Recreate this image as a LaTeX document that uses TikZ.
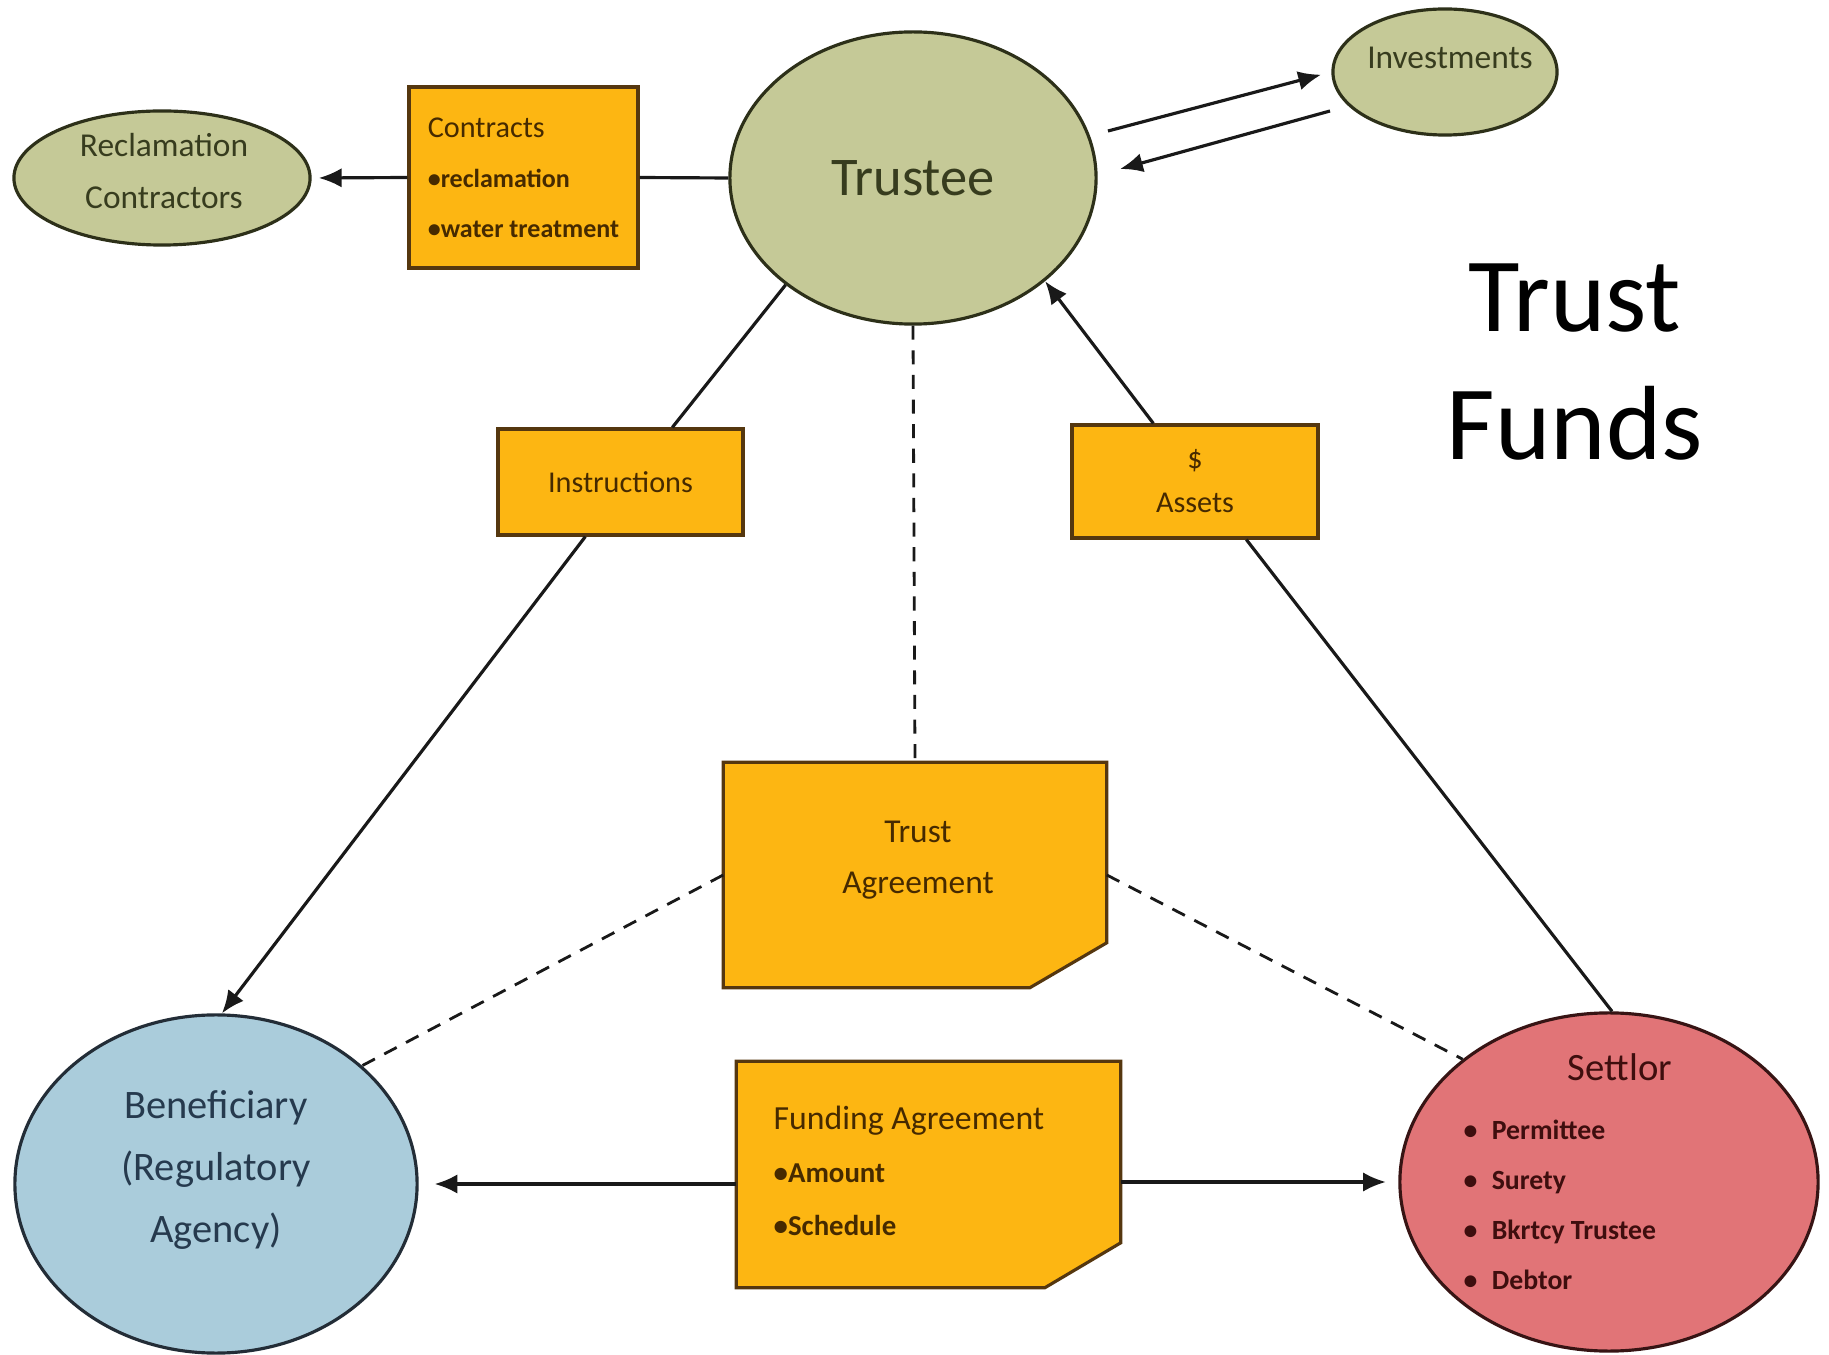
\documentclass[tikz,border=0pt]{standalone}
\usepackage{fontspec}
\setmainfont{Carlito}
\usetikzlibrary{shapes.geometric,arrows.meta,calc}
\definecolor{oliveFill}{RGB}{197,201,151}
\definecolor{oliveEdge}{RGB}{45,48,25}
\definecolor{oliveText}{RGB}{55,60,30}
\definecolor{orangeFill}{RGB}{253,182,18}
\definecolor{boxEdge}{RGB}{85,55,15}
\definecolor{boxText}{RGB}{70,42,0}
\definecolor{benFill}{RGB}{170,204,219}
\definecolor{benEdge}{RGB}{35,45,55}
\definecolor{benText}{RGB}{38,58,78}
\definecolor{setFill}{RGB}{225,116,119}
\definecolor{setEdge}{RGB}{55,20,20}
\definecolor{setText}{RGB}{62,14,14}
\definecolor{lineCol}{RGB}{25,25,25}
\begin{document}
\begin{tikzpicture}[x=0.01cm,y=-0.01cm,
  greenell/.style={ellipse, draw=oliveEdge, fill=oliveFill, line width=0.9pt, inner sep=0pt, text=oliveText},
  orbox/.style={rectangle, draw=boxEdge, fill=orangeFill, line width=0.9pt, inner sep=0pt, text=boxText},
  cutbox/.style={draw=boxEdge, fill=orangeFill, line width=0.9pt},
  conn/.style={line width=0.9pt, draw=lineCol},
  arr/.style={conn, -{Latex[length=6.5pt,width=5.5pt]}},
  dashconn/.style={conn, line width=0.8pt, dash pattern=on 4pt off 3pt},
  boxtxt/.style={text=boxText, inner sep=0pt}
]
\fill[white] (0,0) rectangle (1829,1355);
\useasboundingbox (0,0) rectangle (1829,1355);

% ellipses
\node[greenell, minimum width=3.66cm, minimum height=2.92cm, font=\fontsize{15.5}{18}\selectfont] (tr) at (913,178) {Trustee};
\node[greenell, minimum width=2.24cm, minimum height=1.26cm] (inv) at (1445,72) {};
\node[text=oliveText, inner sep=0pt, font=\fontsize{9.5}{11}\selectfont] (invt) at (1450,58) {Investments};
\node[greenell, minimum width=2.96cm, minimum height=1.34cm] (rc) at (162,178) {};
\node[text=oliveText, inner sep=0pt, align=center, font=\fontsize{9.5}{15}\selectfont] (rct) at (164,171) {Reclamation\\Contractors};

\node[ellipse, draw=benEdge, fill=benFill, line width=0.9pt, inner sep=0pt, minimum width=4.02cm, minimum height=3.38cm] (ben) at (216,1184) {};
\node[text=benText, align=center, inner sep=0pt, font=\fontsize{11.5}{17.5}\selectfont] (bent) at (216,1170) {Beneficiary\\(Regulatory\\Agency)};

\node[ellipse, draw=setEdge, fill=setFill, line width=0.9pt, inner sep=0pt, minimum width=4.18cm, minimum height=3.38cm] (set) at (1609,1182) {};
\node[text=setText, inner sep=0pt, font=\fontsize{11}{13}\selectfont] (sett) at (1620,1067) {Settlor};
\node[text=setText, anchor=west, align=left, inner sep=0pt, font=\fontsize{7.9}{14.2}\selectfont\bfseries] (setl) at (1463,1205)
 {\makebox[8pt][l]{\textbullet}Permittee\\\makebox[8pt][l]{\textbullet}Surety\\\makebox[8pt][l]{\textbullet}Bkrtcy Trustee\\\makebox[8pt][l]{\textbullet}Debtor};

% boxes
\node[orbox, minimum width=2.29cm, minimum height=1.81cm, align=left, font=\fontsize{8.6}{14.2}\selectfont] (con) at (523.5,177.5)
 {Contracts\\{\fontsize{7.4}{14.2}\selectfont\bfseries\textbullet reclamation}\\{\fontsize{7.4}{14.2}\selectfont\bfseries\textbullet water treatment}};
\node[orbox, minimum width=2.45cm, minimum height=1.06cm, font=\fontsize{8.6}{10}\selectfont] (ins) at (620.5,482) {Instructions};
\node[orbox, minimum width=2.46cm, minimum height=1.13cm, align=center, font=\fontsize{8.6}{12.5}\selectfont] (assets) at (1195,481.5) {\$\\Assets};

% Trust Agreement
\node[minimum width=3.82cm, minimum height=2.24cm, inner sep=0pt] (ta) at (915,875) {};
\draw[cutbox] (ta.north west) -- (ta.north east) -- ($(ta.south east)+(0,-45)$) -- ($(ta.south east)+(-77,0)$) -- (ta.south west) -- cycle;
\node[boxtxt, align=center, font=\fontsize{9.5}{14.5}\selectfont] (tat) at (918,860) {Trust\\Agreement};

% Funding Agreement
\node[minimum width=3.83cm, minimum height=2.25cm, inner sep=0pt] (fa) at (928.5,1174.5) {};
\draw[cutbox] (fa.north west) -- (fa.north east) -- ($(fa.south east)+(0,-45)$) -- ($(fa.south east)+(-76,0)$) -- (fa.south west) -- cycle;
\node[boxtxt, anchor=west, align=left, font=\fontsize{9.6}{15}\selectfont] (fat) at (773,1171)
 {Funding Agreement\\{\fontsize{8.2}{15}\selectfont\bfseries\textbullet Amount}\\{\fontsize{8.2}{15}\selectfont\bfseries\textbullet Schedule}};

% Trust Funds title
\node[inner sep=0pt, align=center, font=\fontsize{30}{36.4}\selectfont] (title) at (1575,362) {Trust\\Funds};

% connectors
\draw[arr, shorten >=2pt] (con.west) -- (rc.east);
\draw[conn] (con.east) -- (tr.west);
\coordinate (t1) at (1108,131);
\coordinate (t2) at (1120,169);
\coordinate (t3) at (1330,111);
\draw[arr, shorten >=3pt] (t1) -- (inv.west);
\draw[arr] (t3) -- (t2);

\draw[conn] (tr.220) -- ($(ins.north west)+(176,0)$);
\draw[arr] ($(ins.south west)+(89,0)$) -- (ben.88);

\draw[conn] (set.89) -- ($(assets.south west)+(176,0)$);
\draw[arr] ($(assets.north west)+(83,0)$) -- (tr.322);

\draw[dashconn] (tr.south) -- (ta.north);
\draw[dashconn] (ta.west) -- (ben.39);
\draw[dashconn] (ta.east) -- (set.140);

\draw[arr, shorten >=4.5pt] (fa.west |- ben.east) -- (ben.east);
\draw[arr, shorten >=3.5pt] (fa.east |- set.west) -- (set.west);
\end{tikzpicture}
\end{document}
